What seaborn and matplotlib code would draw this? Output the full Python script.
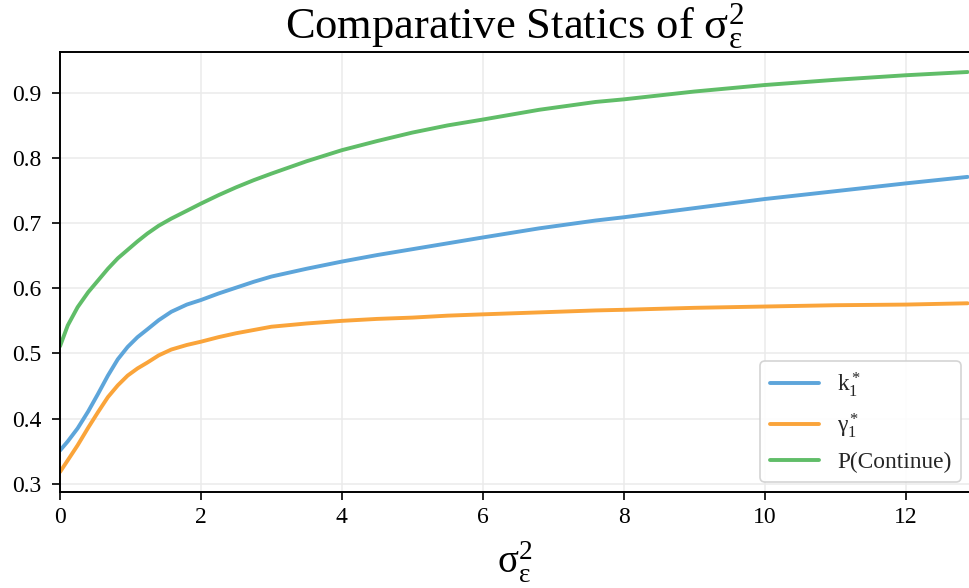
import numpy as np
import pandas as pd
import matplotlib
matplotlib.use("Agg")
import matplotlib.pyplot as plt
import seaborn as sns

# ---- data ----
sigma2 = [0, 0.11, 0.25, 0.4, 0.54, 0.68, 0.82, 0.96, 1.1, 1.24, 1.4, 1.58, 1.8, 2.0,
          2.25, 2.5, 2.75, 3, 3.5, 4, 4.5, 5, 5.5, 6, 6.8, 7.6, 8, 9, 10, 11, 12, 12.88]
k1 = [0.351, 0.365, 0.385, 0.411, 0.438, 0.466, 0.491, 0.510, 0.525, 0.537, 0.551,
      0.564, 0.575, 0.582, 0.592, 0.601, 0.610, 0.618, 0.630, 0.641, 0.651, 0.660,
      0.669, 0.678, 0.692, 0.704, 0.709, 0.723, 0.737, 0.749, 0.761, 0.771]
gamma1 = [0.318, 0.336, 0.359, 0.386, 0.410, 0.433, 0.451, 0.466, 0.477, 0.486, 0.497,
          0.506, 0.513, 0.518, 0.525, 0.531, 0.536, 0.541, 0.546, 0.550, 0.553, 0.555,
          0.558, 0.560, 0.563, 0.566, 0.567, 0.570, 0.572, 0.574, 0.575, 0.577]
p_cont = [0.511, 0.543, 0.571, 0.594, 0.612, 0.630, 0.646, 0.659, 0.672, 0.684, 0.696,
          0.707, 0.719, 0.730, 0.743, 0.755, 0.766, 0.776, 0.795, 0.812, 0.826, 0.839,
          0.850, 0.859, 0.874, 0.886, 0.890, 0.902, 0.912, 0.920, 0.927, 0.932]
labels = [r"$\mathregular{k_1^*}$", r"$\mathregular{\gamma_1^*}$", "P(Continue)"]
colors = ["#5DA5DA", "#FAA43A", "#60BD68"]
xticks = [0, 2, 4, 6, 8, 10, 12]
yticks = [0.3, 0.4, 0.5, 0.6, 0.7, 0.8, 0.9]

sns.set_theme(style="whitegrid")
plt.rcParams["font.family"] = ["Liberation Serif", "DejaVu Serif"]
plt.rcParams["mathtext.fontset"] = "stix"

n = len(sigma2)
df = pd.DataFrame({"x": sigma2 * 3,
                   "y": k1 + gamma1 + p_cont,
                   "series": [labels[0]] * n + [labels[1]] * n + [labels[2]] * n})

fig = plt.figure(figsize=(9.69, 5.88), dpi=100)
ax = fig.add_axes([60 / 969, 1 - 492 / 588, 909 / 969, 440 / 588])
sns.lineplot(data=df, x="x", y="y", hue="series", hue_order=labels,
             palette=colors, linewidth=2.8, ax=ax)

ax.set_xlim(0, 12.9)
ax.margins(y=0.05)
ax.set_xticks(xticks)
ax.set_yticks(yticks)
ax.set_xticklabels([str(t) for t in xticks])
ax.set_yticklabels([f"{t:.1f}" for t in yticks])
ax.grid(True, color="#ebebeb", linewidth=1.1)
for s in ["left", "bottom", "top"]:
    ax.spines[s].set_visible(True)
    ax.spines[s].set_color("black")
    ax.spines[s].set_linewidth(1.4)
ax.spines["right"].set_visible(False)
ax.tick_params(axis="both", which="both", direction="out", length=5.5, width=1.2,
               color="black", labelsize=17, bottom=True, left=True,
               labelcolor="black")
ax.tick_params(axis="x", pad=5.5)
ax.tick_params(axis="y", pad=8)

ax.set_xlabel(r"$\mathregular{\sigma_\varepsilon^2}$", fontsize=28, color="black")
ax.xaxis.label.set_va("baseline")
ax.xaxis.set_label_coords(0.5, -80 / 440)
ax.set_ylabel("")
title_pad = 12.3
ax.set_title(r"Comparative Statics of $\mathregular{\sigma_\varepsilon^2}$",
             fontsize=32, color="black", y=1.0, pad=title_pad, va="baseline")

leg = ax.legend(loc="lower right", fontsize=16.8, frameon=True, fancybox=True,
                framealpha=0.9, edgecolor="#d0d0d0", borderpad=0.4,
                handlelength=2.1, handletextpad=0.8, labelspacing=0.5,
                borderaxespad=0, bbox_to_anchor=(901 / 909, 10 / 440))
leg.get_frame().set_linewidth(1.2)
for line in leg.get_lines():
    line.set_linewidth(2.8)

# keep the title fully inside the canvas
fig.canvas.draw()
bb = ax.title.get_window_extent()
excess = bb.y1 - (fig.bbox.height - 1)
if excess > 0:
    ax.set_title(r"Comparative Statics of $\mathregular{\sigma_\varepsilon^2}$",
                 fontsize=32, color="black", y=1.0,
                 pad=title_pad - excess * 72 / fig.dpi, va="baseline")

fig.savefig("out.png", dpi=100)
